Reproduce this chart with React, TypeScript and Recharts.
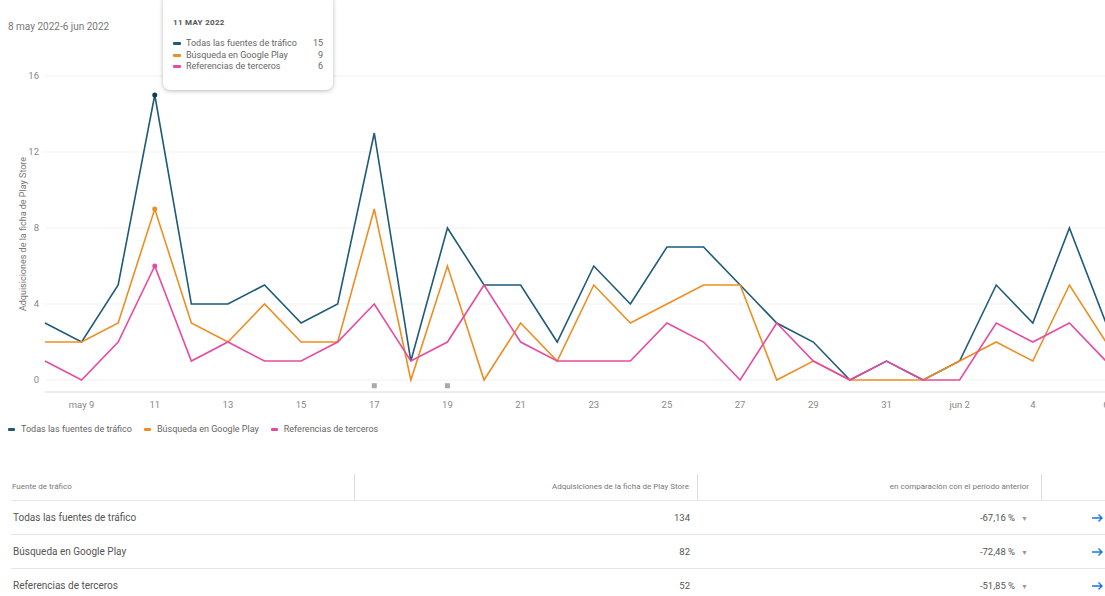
import React from 'react';
import { LineChart, Line, XAxis, YAxis, CartesianGrid, Tooltip, ReferenceDot } from 'recharts';

const dates = [
  '2022-05-08', '2022-05-09', '2022-05-10', '2022-05-11', '2022-05-12', '2022-05-13', '2022-05-14',
  '2022-05-15', '2022-05-16', '2022-05-17', '2022-05-18', '2022-05-19', '2022-05-20', '2022-05-21',
  '2022-05-22', '2022-05-23', '2022-05-24', '2022-05-25', '2022-05-26', '2022-05-27', '2022-05-28',
  '2022-05-29', '2022-05-30', '2022-05-31', '2022-06-01', '2022-06-02', '2022-06-03', '2022-06-04',
  '2022-06-05', '2022-06-06',
];
const todas = [3, 2, 5, 15, 4, 4, 5, 3, 4, 13, 1, 8, 5, 5, 2, 6, 4, 7, 7, 5, 3, 2, 0, 1, 0, 1, 5, 3, 8, 3];
const busqueda = [2, 2, 3, 9, 3, 2, 4, 2, 2, 9, 0, 6, 0, 3, 1, 5, 3, 4, 5, 5, 0, 1, 0, 0, 0, 1, 2, 1, 5, 2];
const referencias = [1, 0, 2, 6, 1, 2, 1, 1, 2, 4, 1, 2, 5, 2, 1, 1, 1, 3, 2, 0, 3, 1, 0, 1, 0, 0, 3, 2, 3, 1];

const xTicks = [
  '2022-05-09', '2022-05-11', '2022-05-13', '2022-05-15', '2022-05-17', '2022-05-19', '2022-05-21',
  '2022-05-23', '2022-05-25', '2022-05-27', '2022-05-29', '2022-05-31', '2022-06-02', '2022-06-04',
  '2022-06-06',
];
const xTickLabels = ['may 9', '11', '13', '15', '17', '19', '21', '23', '25', '27', '29', '31', 'jun 2', '4', '6'];
const yTicks = [0, 4, 8, 12, 16];
const markerDates = ['2022-05-17', '2022-05-19'];

const seriesNames = ['Todas las fuentes de tráfico', 'Búsqueda en Google Play', 'Referencias de terceros'];
const seriesKeys = ['todas', 'busqueda', 'referencias'];
const seriesColors = ['#1d5b78', '#ee8e22', '#e64ba1'];

const totals = [134, 82, 52];
const changes = ['-67,16 %', '-72,48 %', '-51,85 %'];

const monthNames: Record<string, string> = { '05': 'MAY', '06': 'JUN' };

const data = dates.map((d, i) => ({
  date: d,
  todas: todas[i],
  busqueda: busqueda[i],
  referencias: referencias[i],
}));

const tickLabel = (v: string) => {
  const i = xTicks.indexOf(v);
  return i >= 0 ? xTickLabels[i] : '';
};

const TooltipBox: React.FC<any> = ({ active, payload, label }) => {
  if (!active || !payload || !payload.length) return null;
  const [y, m, d] = String(label).split('-');
  return (
    <div style={{
      width: 150, background: '#fff', borderRadius: 7, padding: '24px 10px 17px 10px',
      boxShadow: '0 1px 4px rgba(0,0,0,0.28)', fontFamily: 'Roboto', color: '#666',
    }}>
      <div style={{ fontSize: 8, fontWeight: 700, color: '#555', letterSpacing: 0.3, marginBottom: 11 }}>
        {`${Number(d)} ${monthNames[m]} ${y}`}
      </div>
      {payload.map((p: any) => (
        <div key={p.dataKey} style={{ display: 'flex', alignItems: 'center', fontSize: 9, lineHeight: '11.5px' }}>
          <span style={{ width: 8, height: 3, background: p.color, marginRight: 5, borderRadius: 1 }} />
          <span style={{ flex: 1 }}>{p.name}</span>
          <span>{p.value}</span>
        </div>
      ))}
    </div>
  );
};

const YLabel: React.FC<any> = ({ viewBox }) => {
  const cy = viewBox.y + viewBox.height / 2;
  return (
    <text x={23} y={cy} transform={`rotate(-90, 23, ${cy})`} textAnchor="middle"
      dominantBaseline="central" fontSize={9} fill="#777">
      Adquisiciones de la ficha de Play Store
    </text>
  );
};

const Square: React.FC<any> = ({ cx, cy }) => (
  <rect x={cx - 2.5} y={cy - 2.5} width={5} height={5} fill="#aaa" />
);

const BlueArrow = () => (
  <svg width={12} height={10} viewBox="0 0 12 10" style={{ display: 'block' }}>
    <path d="M0 5 H10 M6.5 1.5 L10 5 L6.5 8.5" stroke="#1a73e8" strokeWidth={1.4} fill="none" />
  </svg>
);

const cellBorder = '1px solid #e6e6e6';

export default function App() {
  return (
    <div style={{
      position: 'absolute', left: 0, top: 0, width: 1105, height: 596, overflow: 'hidden',
      background: '#fff', fontFamily: 'Roboto, sans-serif',
    }}>
      <div style={{ position: 'absolute', left: 8, top: 21, fontSize: 10, color: '#777' }}>
        8 may 2022-6 jun 2022
      </div>

      <div style={{ position: 'absolute', left: 0, top: 0 }}>
        <LineChart width={1126} height={440} data={data} margin={{ top: 76, right: 20, left: 0, bottom: 18 }}>
          <CartesianGrid vertical={false} stroke="#f1f1f1" />
          <XAxis
            dataKey="date"
            ticks={xTicks}
            interval={0}
            tickFormatter={tickLabel}
            axisLine={{ stroke: '#e2e2e2' }}
            tickLine={false}
            tickSize={0}
            tickMargin={9}
            height={30}
            tick={{ fontSize: 9.5, fill: '#888' }}
          />
          <YAxis
            width={45}
            domain={[-0.63, 16]}
            ticks={yTicks}
            allowDataOverflow
            axisLine={false}
            tickLine={false}
            tickSize={0}
            tickMargin={6}
            tick={{ fontSize: 9.5, fill: '#888' }}
            label={<YLabel />}
          />
          <Tooltip
            content={<TooltipBox />}
            defaultIndex={3}
            cursor={false}
            position={{ x: 163, y: -6 }}
            allowEscapeViewBox={{ x: true, y: true }}
            isAnimationActive={false}
          />
          {markerDates.map((d) => (
            <ReferenceDot key={d} x={d} y={-0.3} r={3} shape={<Square />} />
          ))}
          {seriesKeys.map((k, i) => (
            <Line
              key={k}
              type="linear"
              dataKey={k}
              name={seriesNames[i]}
              stroke={seriesColors[i]}
              strokeWidth={1.6}
              dot={false}
              activeDot={{ r: 2.5, fill: i === 0 ? '#123c50' : seriesColors[i], stroke: 'none' }}
              isAnimationActive={false}
            />
          ))}
        </LineChart>
      </div>

      <div style={{ position: 'absolute', left: 8, top: 424, display: 'flex', alignItems: 'center', fontSize: 9, color: '#666' }}>
        {seriesNames.map((n, i) => (
          <div key={n} style={{ display: 'flex', alignItems: 'center', marginRight: 12 }}>
            <span style={{ width: 7, height: 3, background: seriesColors[i], marginRight: 6, borderRadius: 1 }} />
            <span>{n}</span>
          </div>
        ))}
      </div>

      <div style={{ position: 'absolute', left: 0, top: 474, width: 1105, color: '#555' }}>
        <div style={{ display: 'flex', height: 26, alignItems: 'center', fontSize: 8, color: '#777', borderBottom: cellBorder, marginLeft: 11 }}>
          <div style={{ width: 344, height: 26, lineHeight: '26px', borderRight: '1px solid #ddd', paddingLeft: 1, boxSizing: 'border-box' }}>Fuente de tráfico</div>
          <div style={{ width: 343, height: 26, lineHeight: '26px', textAlign: 'right', paddingRight: 8, borderRight: '1px solid #ddd', boxSizing: 'border-box' }}>Adquisiciones de la ficha de Play Store</div>
          <div style={{ width: 344, height: 26, lineHeight: '26px', textAlign: 'right', paddingRight: 12, borderRight: '1px solid #ddd', boxSizing: 'border-box' }}>en comparación con el período anterior</div>
        </div>
        {seriesNames.map((n, i) => (
          <div key={n} style={{ display: 'flex', height: 33, alignItems: 'center', fontSize: 10, borderBottom: i < 2 ? cellBorder : 'none', marginLeft: 11 }}>
            <div style={{ width: 344, paddingLeft: 2, boxSizing: 'border-box' }}>{n}</div>
            <div style={{ width: 343, textAlign: 'right', paddingRight: 8, boxSizing: 'border-box', fontSize: 9.5 }}>{totals[i]}</div>
            <div style={{ width: 344, textAlign: 'right', paddingRight: 14, boxSizing: 'border-box', fontSize: 9.5 }}>
              {changes[i]}<span style={{ marginLeft: 6, fontSize: 7, color: '#999' }}>▼</span>
            </div>
            <div style={{ flex: 1, display: 'flex', justifyContent: 'flex-end', paddingRight: 1 }}><BlueArrow /></div>
          </div>
        ))}
      </div>
    </div>
  );
}
